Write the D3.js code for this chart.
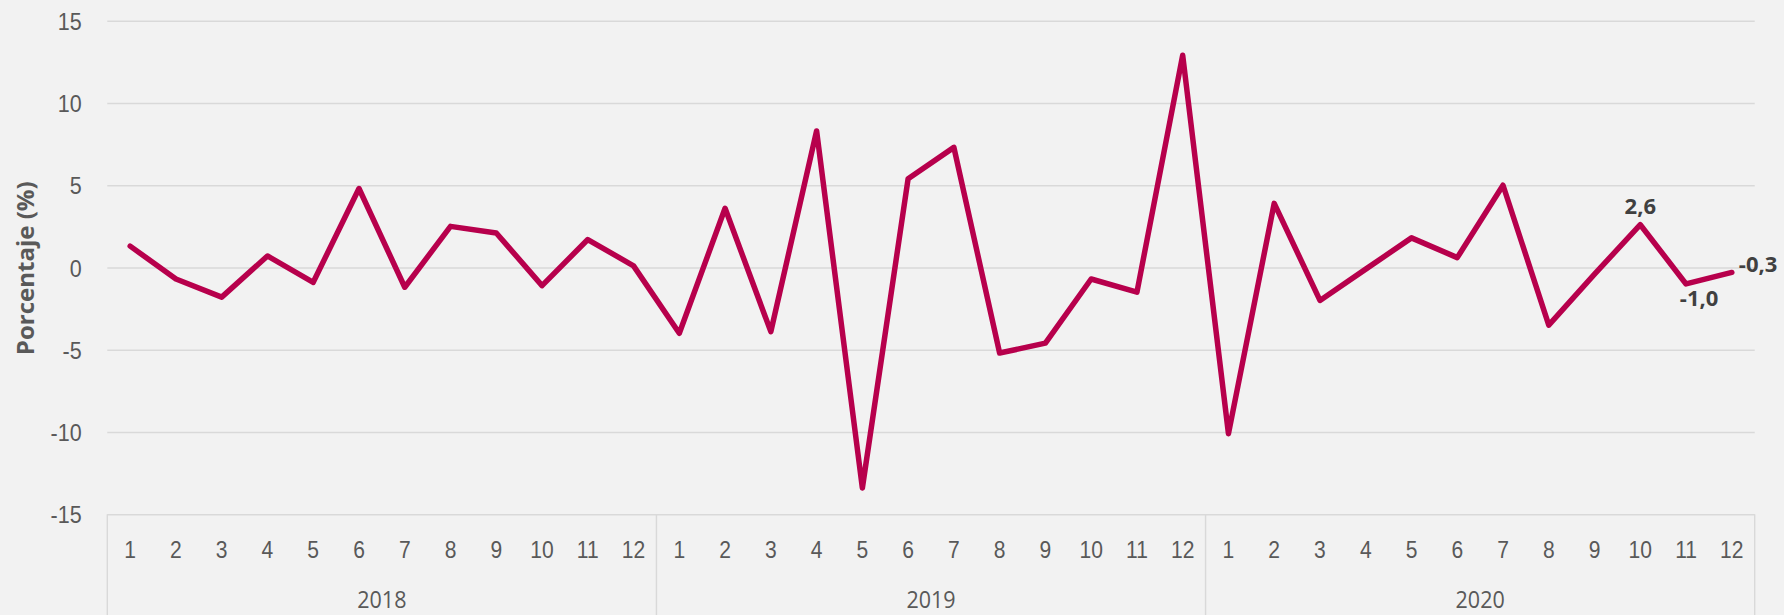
<!DOCTYPE html>
<html>
<head>
<meta charset="utf-8">
<script src="https://cdn.jsdelivr.net/npm/d3@7"></script>
<style>
  html, body { margin: 0; padding: 0; background: #f2f2f2; }
  svg { display: block; font-family: "Segoe UI", "Open Sans", sans-serif; }
</style>
</head>
<body>
<section></section>
<script>
// data (monthly change, %)
const years = ["2018", "2019", "2020"];
const months = ["1", "2", "3", "4", "5", "6", "7", "8", "9", "10", "11", "12"];
const values2018 = [1.3, -0.7, -1.8, 0.7, -0.9, 4.8, -1.2, 2.5, 2.1, -1.1, 1.7, 0.1];
const values2019 = [-4.0, 3.6, -3.9, 8.3, -13.4, 5.4, 7.3, -5.2, -4.6, -0.7, -1.5, 12.9];
const values2020 = [-10.1, 3.9, -2.0, -0.1, 1.8, 0.6, 5.0, -3.5, -0.4, 2.6, -1.0, -0.3];
const yTicks = [-15, -10, -5, 0, 5, 10, 15];
const yTitle = "Porcentaje (%)";
// which points carry a value label (last three months)
const labelled = [33, 34, 35];

const WIDTH = 1784;
const HEIGHT = 615;
const LEFT = 107.3;
const RIGHT = 1754.7;
const TOP = 20.7;
const BOTTOM = 514.3;

const series = [values2018, values2019, values2020];
const data = [];
series.forEach((vals, yi) => {
    vals.forEach((v, mi) => data.push({year: years[yi], month: months[mi], value: v, i: data.length}));
});

const svg = d3.select("section")
    .append("svg")
    .attr("width", WIDTH)
    .attr("height", HEIGHT);

svg.append("rect")
    .attr("width", WIDTH)
    .attr("height", HEIGHT)
    .attr("fill", "#f2f2f2");

const xScale = d3.scaleBand()
    .domain(d3.range(data.length))
    .range([LEFT, RIGHT]);

const yScale = d3.scaleLinear()
    .domain([-15, 15])
    .range([BOTTOM, TOP]);

const cx = i => xScale(i) + xScale.bandwidth() / 2;

// horizontal gridlines + y tick labels
const yAxis = d3.axisLeft(yScale)
    .tickValues(yTicks)
    .tickSize(-(RIGHT - LEFT))
    .tickPadding(25.6)
    .tickFormat(d => d);

const gy = svg.append("g")
    .attr("transform", "translate(" + LEFT + ",0)")
    .call(yAxis);
gy.select(".domain").remove();
gy.selectAll("line").attr("stroke", "#d9d9d9").attr("stroke-width", 1.4);
gy.selectAll("text")
    .attr("fill", "#595959")
    .attr("font-size", "23.4px")
    .attr("dy", "0.37em")
    .attr("transform", function() {
        const x = +d3.select(this).attr("x");
        return "translate(" + x + ",0) scale(0.92,1)";
    })
    .attr("x", 0);

// category axis: months
const xAxis = d3.axisBottom(xScale)
    .tickSize(0)
    .tickPadding(0)
    .tickFormat(i => data[i].month);

const gx = svg.append("g")
    .attr("transform", "translate(0," + BOTTOM + ")")
    .call(xAxis);
gx.select(".domain").remove();
gx.selectAll("text")
    .attr("fill", "#595959")
    .attr("font-size", "23.4px")
    .attr("dy", null)
    .attr("y", 44)
    .attr("x", 0)
    .attr("transform", "scale(0.9,1)");

// year group separators and labels
const boundaries = d3.range(years.length + 1).map(k => k * months.length);
svg.selectAll(".sep")
    .data(boundaries)
    .enter()
    .append("line")
    .attr("class", "sep")
    .attr("x1", d => d < data.length ? xScale(d) : RIGHT)
    .attr("x2", d => d < data.length ? xScale(d) : RIGHT)
    .attr("y1", BOTTOM)
    .attr("y2", HEIGHT)
    .attr("stroke", "#d9d9d9")
    .attr("stroke-width", 1.4);

svg.selectAll(".year")
    .data(years)
    .enter()
    .append("text")
    .attr("class", "year")
    .attr("text-anchor", "middle")
    .attr("fill", "#595959")
    .attr("font-size", "23.4px")
    .attr("transform", (d, k) => {
        const a = xScale(k * months.length);
        const b = k === years.length - 1 ? RIGHT : xScale((k + 1) * months.length);
        return "translate(" + (a + b) / 2 + "," + 608 + ") scale(0.92,1)";
    })
    .text(d => d);

// y title
svg.append("text")
    .attr("transform", "translate(34,268.3) rotate(-90)")
    .attr("text-anchor", "middle")
    .attr("font-size", "24px")
    .attr("font-weight", "bold")
    .attr("fill", "#595959")
    .text(yTitle);

// the line
const line = d3.line()
    .x(d => cx(d.i))
    .y(d => yScale(d.value));

svg.append("path")
    .datum(data)
    .attr("fill", "none")
    .attr("stroke", "#b7004c")
    .attr("stroke-width", 5.5)
    .attr("stroke-linejoin", "round")
    .attr("stroke-linecap", "round")
    .attr("d", line);

// value labels
const fmt = v => d3.format(".1f")(v).replace(".", ",").replace("−", "-");
svg.selectAll(".lbl")
    .data(labelled.map(i => data[i]))
    .enter()
    .append("text")
    .attr("class", "lbl")
    .attr("font-size", "22px")
    .attr("font-weight", "bold")
    .attr("fill", "#404040")
    .attr("text-anchor", (d, k) => k === 2 ? "start" : "middle")
    .attr("x", (d, k) => k === 2 ? cx(d.i) + 7 : cx(d.i) + (k === 1 ? 13 : 0))
    .attr("y", (d, k) => {
        const y = yScale(d.value);
        if (k === 0) return y - 11;
        if (k === 1) return y + 22;
        return y;
    })
    .text(d => fmt(d.value));
</script>
</body>
</html>
